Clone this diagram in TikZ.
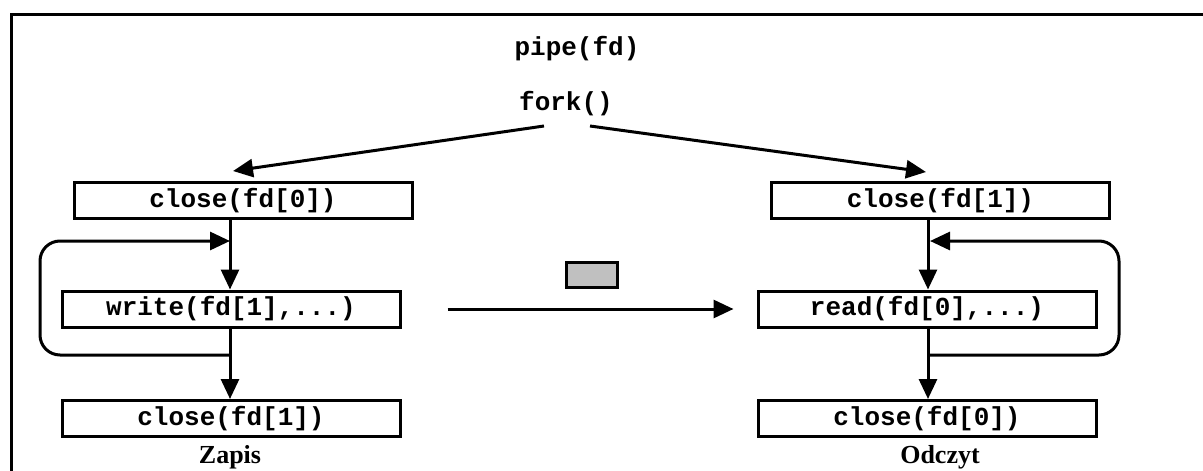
\documentclass[tikz,border=0pt]{standalone}
\usepackage{fontspec}
\setmainfont{Liberation Serif}
\setmonofont{Liberation Mono}
\usetikzlibrary{arrows.meta,calc}
\definecolor{boxgray}{RGB}{192,192,192}
\begin{document}
\begin{tikzpicture}[x=1pt,y=-1pt,
  line width=3pt,
  arr/.style={-{Triangle[length=20pt,width=18pt]}},
  code/.style={font=\fontsize{26}{30}\selectfont\ttfamily\bfseries, inner sep=0pt},
  stepbox/.style={draw, code, minimum width=338pt, minimum height=36pt, inner sep=0pt},
  label/.style={font=\fontsize{26}{30}\selectfont\bfseries, inner sep=0pt}]
\useasboundingbox (0,0) rectangle (1203,471);
\draw (1203,14) -- (11,14) -- (11,471);
% header texts
\node[code] (pipe) at (577,49) {pipe(fd)};
\node[code] (fork) at (566,104) {fork()};
% boxes
\node[stepbox] (lc0) at (243,200.5) {close(fd[0])};
\node[stepbox] (lw)  at (231,309) {write(fd[1],...)};
\node[stepbox] (lc1) at (231,418.5) {close(fd[1])};
\node[stepbox] (rc1) at (940.5,200.5) {close(fd[1])};
\node[stepbox] (rr)  at (927,309) {read(fd[0],...)};
\node[stepbox] (rc0) at (927,418.5) {close(fd[0])};
\node[label] (zap) at (230,457) {Zapis};
\node[label] (odc) at (940,457) {Odczyt};
\node[draw, fill=boxgray, minimum width=51pt, minimum height=25pt, inner sep=0pt] (buf) at (591.5,274.5) {};
% coordinates
\coordinate (lx) at (230,0);
\coordinate (rx) at (928,0);
\coordinate (fl) at (544,126);
\coordinate (fr) at (590,126);
\coordinate (tl) at (233,171);
\coordinate (tr) at (926,172);
\coordinate (ljoin) at (230,355);
\coordinate (rjoin) at (928,355);
% fork arrows
\draw[arr] (fl) -- (tl);
\draw[arr] (fr) -- (tr);
% left column
\draw[arr] (lc0.south -| lx) -- (lw.north -| lx);
\draw[arr] (lw.south -| lx) -- (lc1.north -| lx);
\draw[arr, rounded corners=20pt] (ljoin) -- (40,355) -- (40,241) -- (230,241);
% right column
\draw[arr] (rc1.south -| rx) -- (rr.north -| rx);
\draw[arr] (rr.south -| rx) -- (rc0.north -| rx);
\draw[arr, rounded corners=20pt] (rjoin) -- (1119,355) -- (1119,241) -- (930,241);
% pipe arrow
\draw[arr] ($(lw.east)+(46,0)$) -- ($(rr.west)+(-23,0)$);
\end{tikzpicture}
\end{document}
